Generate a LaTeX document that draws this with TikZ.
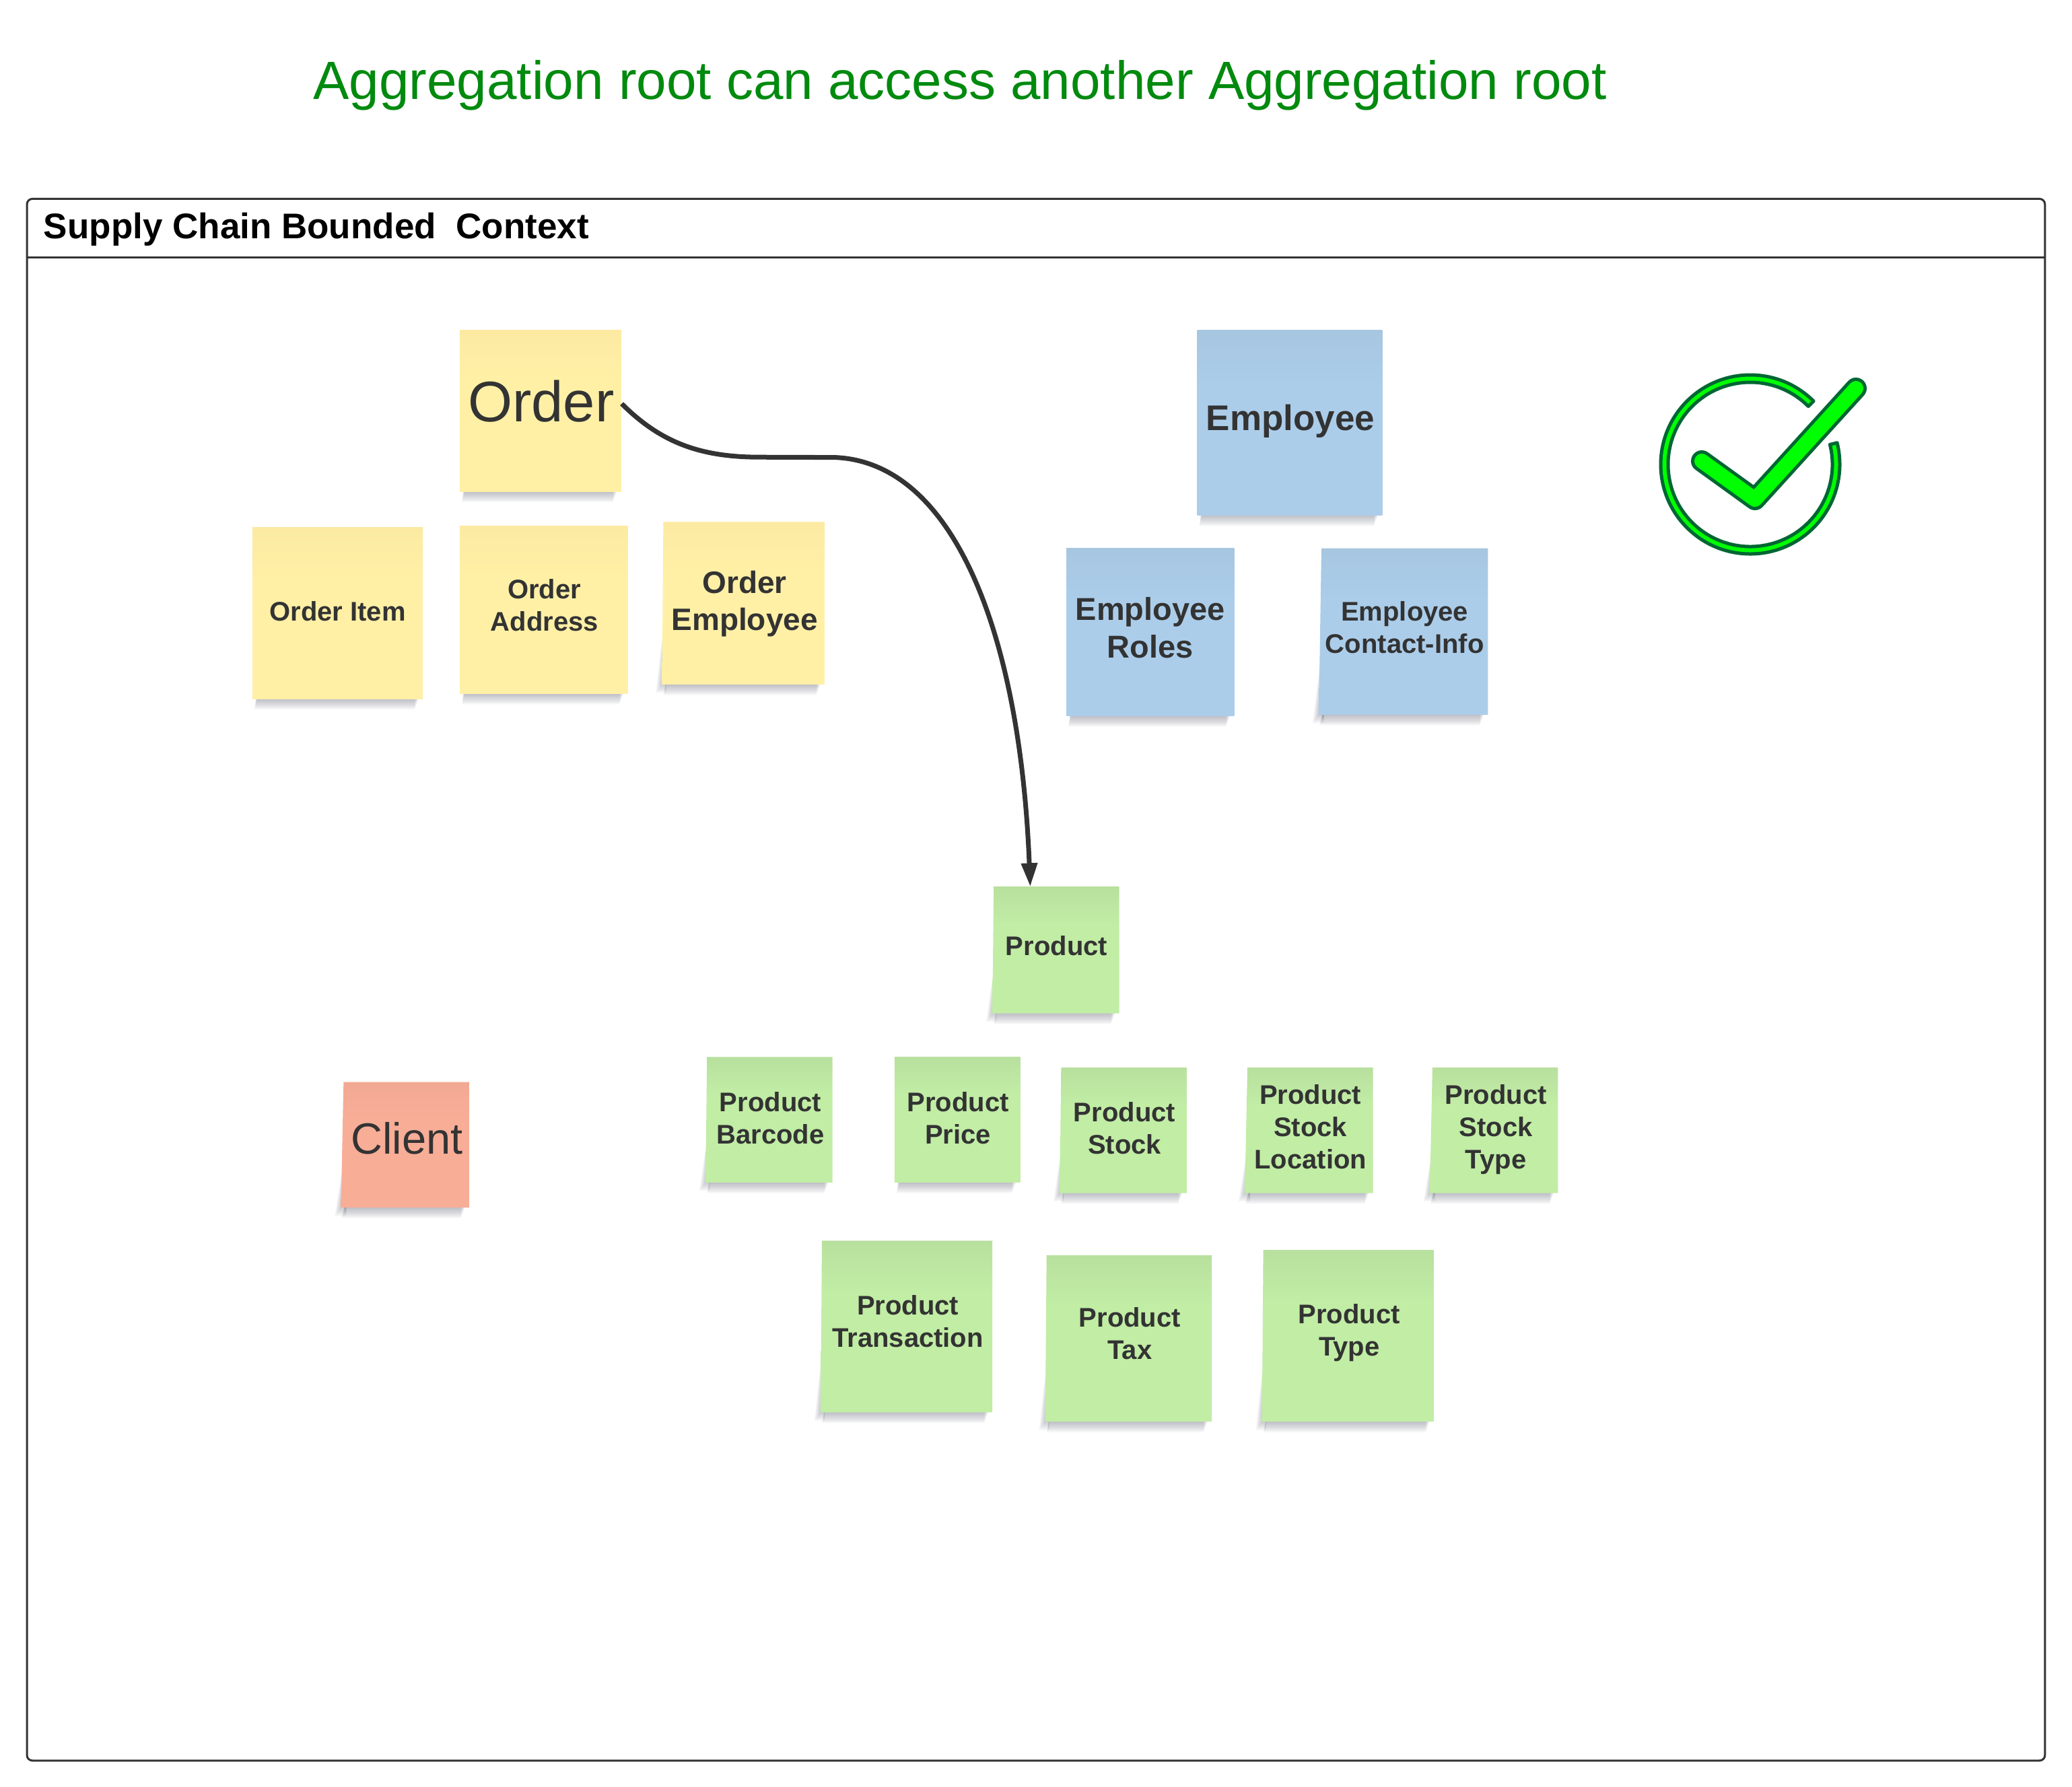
\documentclass[tikz,border=0pt]{standalone}
\usepackage{fontspec}
\setmainfont{Liberation Sans}
\usetikzlibrary{arrows.meta}
\definecolor{ink}{HTML}{333333}
\definecolor{shadowc}{HTML}{55596A}
\definecolor{titlegreen}{HTML}{008A0E}
\definecolor{tickline}{HTML}{006633}
\definecolor{tickfill}{HTML}{00FF00}
\definecolor{ybase}{HTML}{FFF0A6}\definecolor{ytop}{HTML}{FCEAA2}
\definecolor{bbase}{HTML}{ABCDEA}\definecolor{btop}{HTML}{A7C6E0}
\definecolor{gbase}{HTML}{C1EDA5}\definecolor{gtop}{HTML}{B8E09E}
\definecolor{rbase}{HTML}{F8AD97}\definecolor{rtop}{HTML}{F2A993}
\pgfdeclareverticalshading{noteyellow}{100bp}{color(0bp)=(ybase); color(60bp)=(ybase); color(75bp)=(ytop); color(100bp)=(ytop)}
\pgfdeclareverticalshading{noteblue}{100bp}{color(0bp)=(bbase); color(60bp)=(bbase); color(75bp)=(btop); color(100bp)=(btop)}
\pgfdeclareverticalshading{notegreen}{100bp}{color(0bp)=(gbase); color(60bp)=(gbase); color(75bp)=(gtop); color(100bp)=(gtop)}
\pgfdeclareverticalshading{notered}{100bp}{color(0bp)=(rbase); color(60bp)=(rbase); color(75bp)=(rtop); color(100bp)=(rtop)}
\newcommand{\fpx}[1]{\fontsize{#1}{\numexpr#1*6/5\relax}\selectfont}
% \sticky{x1}{y1}{x2}{y2}{skew of the lower left corner}{shading}
\newcommand{\sticky}[6]{%
  \foreach \i in {1,...,8}{%
    \fill[shadowc,opacity=.05] (#1+3-#5*.6,#4-6) -- (#3-3-\i*.4,#4-6) -- (#3-3-\i*.4,#4+\i) -- (#1+4-#5*1.5-\i*.3,#4+\i) -- cycle;
    \ifdim #5pt>0pt
      \fill[shadowc,opacity=.04] (#1+2,#2+.5*#4-.5*#2) -- (#1-#5-\i*.6,#4+\i*.8) -- (#1+2,#4+\i*.8) -- cycle;
    \fi
  }%
  \shade[shading=#6] (#1,#2) -- (#3,#2) -- (#3,#4) -- (#1-#5,#4) -- cycle;
}
\tikzset{
  notetext/.style={inner sep=0pt,align=center,text=ink},
  small note/.style={notetext,font=\bfseries\fpx{40}},
  frameline/.style={draw=ink,line width=3pt},
  link/.style={draw=ink,line width=7pt,-{Triangle[length=35pt,width=23pt]}},
}
\begin{document}
\begin{tikzpicture}[x=1.96301pt,y=-1.96301pt]
\useasboundingbox (0,0) rectangle (1568,1352.5);
\fill[white] (0,0) rectangle (1568,1352.5);
% title
\node[inner sep=0pt,text=titlegreen,font=\fpx{80}] (title) at (726.5,64.5) {Aggregation root can access another Aggregation root};
% frame
\draw[frameline,rounded corners=8pt] (20.4,150.5) rectangle (1547.5,1332.5);
\coordinate (hl) at (20.4,194.8);
\coordinate (hr) at (1547.5,194.8);
\draw[frameline] (hl) -- (hr);
\node[inner sep=0pt,anchor=west,font=\bfseries\fpx{53}] (head) at (33,173.5) {Supply Chain Bounded\ \ Context};
% notes: paper
\sticky{348}{250}{470}{372}{0}{noteyellow}
\sticky{191}{399}{320}{529}{0}{noteyellow}
\sticky{348}{398}{475}{525}{0}{noteyellow}
\sticky{502}{395}{624}{518}{1}{noteyellow}
\sticky{906}{250}{1046}{390}{0}{noteblue}
\sticky{807}{415}{934}{542}{0}{noteblue}
\sticky{1000}{415}{1126}{541}{2}{noteblue}
\sticky{752}{671}{847}{767}{1}{notegreen}
\sticky{535}{800}{630}{895}{1}{notegreen}
\sticky{677}{800}{772}{895}{0}{notegreen}
\sticky{803}{808}{898}{903}{1}{notegreen}
\sticky{944}{808}{1039}{903}{2}{notegreen}
\sticky{1084}{808}{1179}{903}{2}{notegreen}
\sticky{622}{939}{751}{1069}{1}{notegreen}
\sticky{792}{950}{917}{1076}{1}{notegreen}
\sticky{956}{946}{1085}{1076}{1}{notegreen}
\sticky{260}{819}{355}{914}{2}{notered}
% notes: text
\node[notetext,font=\fpx{85},minimum width=239pt,minimum height=239pt] (Order) at (409.5,303.5) {Order};
\node[small note] (OrderItem) at (255.5,462.5) {Order Item};
\node[small note] (OrderAddress) at (412,458) {Order\\Address};
\node[notetext,font=\bfseries\fpx{46}] (OrderEmployee) at (563.5,457) {Order\\Employee};
\node[notetext,font=\bfseries\fpx{53}] (Employee) at (976.5,319) {Employee};
\node[notetext,font=\bfseries\fpx{47}] (EmployeeRoles) at (870.5,475) {Employee\\Roles};
\node[small note] (EmployeeContact) at (1063,475) {Employee\\Contact-Info};
\node[small note,minimum width=187pt,minimum height=188pt] (Product) at (799.5,716) {Product};
\node[small note] (Barcode) at (583,846) {Product\\Barcode};
\node[small note] (Price) at (725,846) {Product\\Price};
\node[small note] (Stock) at (851,854) {Product\\Stock};
\node[small note] (StockLocation) at (991.7,853) {Product\\Stock\\Location};
\node[small note] (StockType) at (1132,855) {Product\\Stock\\Type};
\node[small note] (Transaction) at (687,1000) {Product\\Transaction};
\node[small note] (Tax) at (855,1009.5) {Product\\Tax};
\node[small note] (ProductType) at (1021,1008.5) {Product\\Type};
\node[notetext,font=\fpx{65}] (Client) at (308,861.5) {Client};
% connector
\coordinate (bendA) at (575,346);
\coordinate (bendB) at (632,346.2);
\path[link] ([yshift=-4pt]Order.east) .. controls (500,335) and (530,346) .. (bendA)
  -- (bendB) .. controls (722,350) and (772,480) .. ([xshift=-39pt,yshift=-6pt]Product.north);
% tick badge
\begin{scope}[x=1pt,y=-1pt,shift={(2600,690)}]
\filldraw[draw=tickline,fill=tickfill,line width=5pt,line join=round]
  (45:133pt) arc[start angle=45,end angle=374,radius=133pt] -- (14:122pt) arc[start angle=374,end angle=45,radius=122pt] -- cycle;
\coordinate (ta) at (-72,-5);
\coordinate (tb) at (7,52);
\coordinate (tc) at (157,-113);
\draw[tickline,line width=32pt,line cap=round,line join=round] (ta) -- (tb) -- (tc);
\draw[tickfill,line width=22pt,line cap=round,line join=round] (ta) -- (tb) -- (tc);
\end{scope}
\end{tikzpicture}
\end{document}
